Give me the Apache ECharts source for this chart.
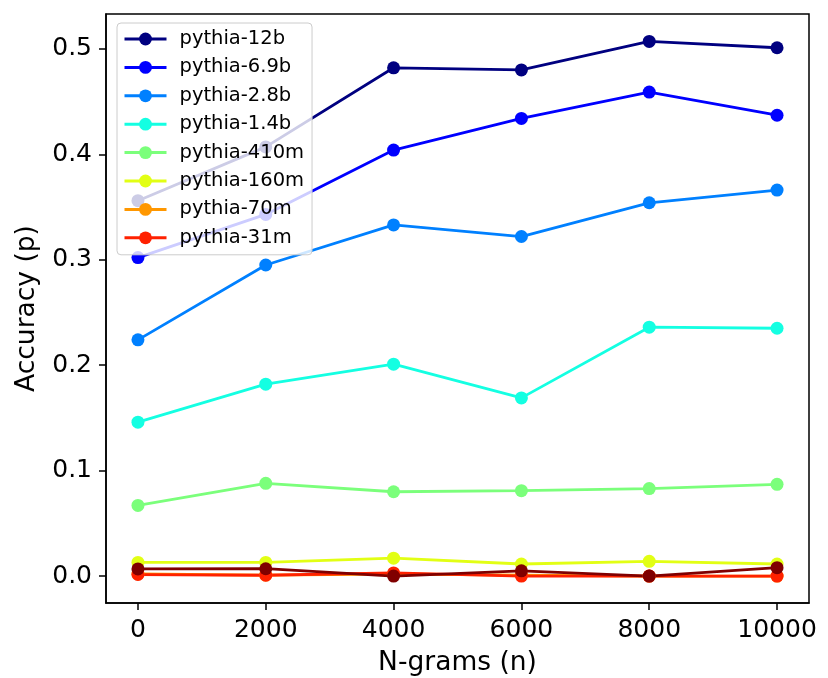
<!DOCTYPE html>
<html>
<head>
<meta charset="utf-8">
<script src="https://cdn.jsdelivr.net/npm/echarts@6/dist/echarts.min.js"></script>
<style>
html,body{margin:0;padding:0;background:#fff;}
#chart{width:828px;height:678px;}
</style>
</head>
<body>
<div id="chart"></div>
<script>
var xValues = [0, 2000, 4000, 6000, 8000, 10000];
var xTicks = [0, 2000, 4000, 6000, 8000, 10000];
var yTicks = [0, 0.1, 0.2, 0.3, 0.4, 0.5];

var names = ['pythia-12b','pythia-6.9b','pythia-2.8b','pythia-1.4b','pythia-410m','pythia-160m','pythia-70m','pythia-31m','pythia-14m'];
var legendNames = ['pythia-12b','pythia-6.9b','pythia-2.8b','pythia-1.4b','pythia-410m','pythia-160m','pythia-70m','pythia-31m'];
var colors = ['#000080','#0000ff','#0080ff','#14ffe2','#7bff7b','#e2ff14','#ff9700','#ff2100','#800000'];

var p12b  = [0.356, 0.407, 0.482, 0.480, 0.507, 0.501];
var p6_9b = [0.302, 0.343, 0.404, 0.434, 0.459, 0.437];
var p2_8b = [0.224, 0.295, 0.333, 0.322, 0.354, 0.366];
var p1_4b = [0.146, 0.182, 0.201, 0.169, 0.236, 0.235];
var p410m = [0.067, 0.088, 0.080, 0.081, 0.083, 0.087];
var p160m = [0.013, 0.013, 0.017, 0.0115, 0.014, 0.0115];
var p70m  = [0.002, 0.001, 0.002, 0.001, 0.000, 0.000];
var p31m  = [0.0015, 0.0008, 0.003, 0.000, 0.000, 0.000];
var p14m  = [0.0068, 0.007, 0.000, 0.005, 0.000, 0.008];

var allData = [p12b, p6_9b, p2_8b, p1_4b, p410m, p160m, p70m, p31m, p14m];

var FONT = 'DejaVu Sans';

var series = names.map(function(n, i){
  return {
    name: n,
    type: 'line',
    data: xValues.map(function(x, j){ return [x, allData[i][j]]; }),
    symbol: 'circle',
    symbolSize: 13,
    lineStyle: {width: 2.8, color: colors[i]},
    itemStyle: {color: colors[i]},
    emphasis: {disabled: true},
    z: 2
  };
});

var chart = echarts.init(document.getElementById('chart'), null, {renderer: 'canvas'});
chart.setOption({
  animation: false,
  backgroundColor: '#ffffff',
  grid: {
    left: 106, top: 14, width: 703, height: 589,
    outerBoundsMode: 'none',
    containLabel: false,
    show: true, borderColor: '#000', borderWidth: 1.5, backgroundColor: 'transparent'
  },
  xAxis: {
    type: 'value',
    min: -500, max: 10500,
    name: 'N-grams (n)',
    nameLocation: 'middle',
    nameGap: 47,
    nameTextStyle: {fontFamily: FONT, fontSize: 26.5, color: '#000'},
    axisLine: {show: true, onZero: false, lineStyle: {color: '#000', width: 1.5}},
    axisTick: {show: true, inside: false, length: 7, lineStyle: {color: '#000', width: 1.5}, customValues: xTicks},
    axisLabel: {fontFamily: FONT, fontSize: 25, color: '#000', margin: 15, customValues: xTicks,
      formatter: function(v){ return String(Math.round(v)); }},
    splitLine: {show: false}
  },
  yAxis: {
    type: 'value',
    min: -0.0255, max: 0.533,
    name: 'Accuracy (p)',
    nameLocation: 'middle',
    nameGap: 65,
    nameTextStyle: {fontFamily: FONT, fontSize: 26.5, color: '#000'},
    axisLine: {show: true, onZero: false, lineStyle: {color: '#000', width: 1.5}},
    axisTick: {show: true, inside: false, length: 7, lineStyle: {color: '#000', width: 1.5}, customValues: yTicks},
    axisLabel: {fontFamily: FONT, fontSize: 25, color: '#000', margin: 14, customValues: yTicks,
      formatter: function(v){ return v.toFixed(1); }},
    splitLine: {show: false}
  },
  legend: {
    data: legendNames,
    orient: 'vertical',
    left: 117, top: 23,
    padding: [6, 8, 7, 6],
    itemWidth: 42,
    itemHeight: 16,
    itemGap: 8.4,
    lineStyle: {width: 3},
    backgroundColor: 'rgba(255,255,255,0.8)',
    borderColor: '#cccccc',
    borderWidth: 1,
    borderRadius: 4,
    textStyle: {fontFamily: FONT, fontSize: 19.5, color: '#000', padding: [0,0,0,8], lineHeight: 19},
    z: 10
  },
  series: series
});
</script>
</body>
</html>
